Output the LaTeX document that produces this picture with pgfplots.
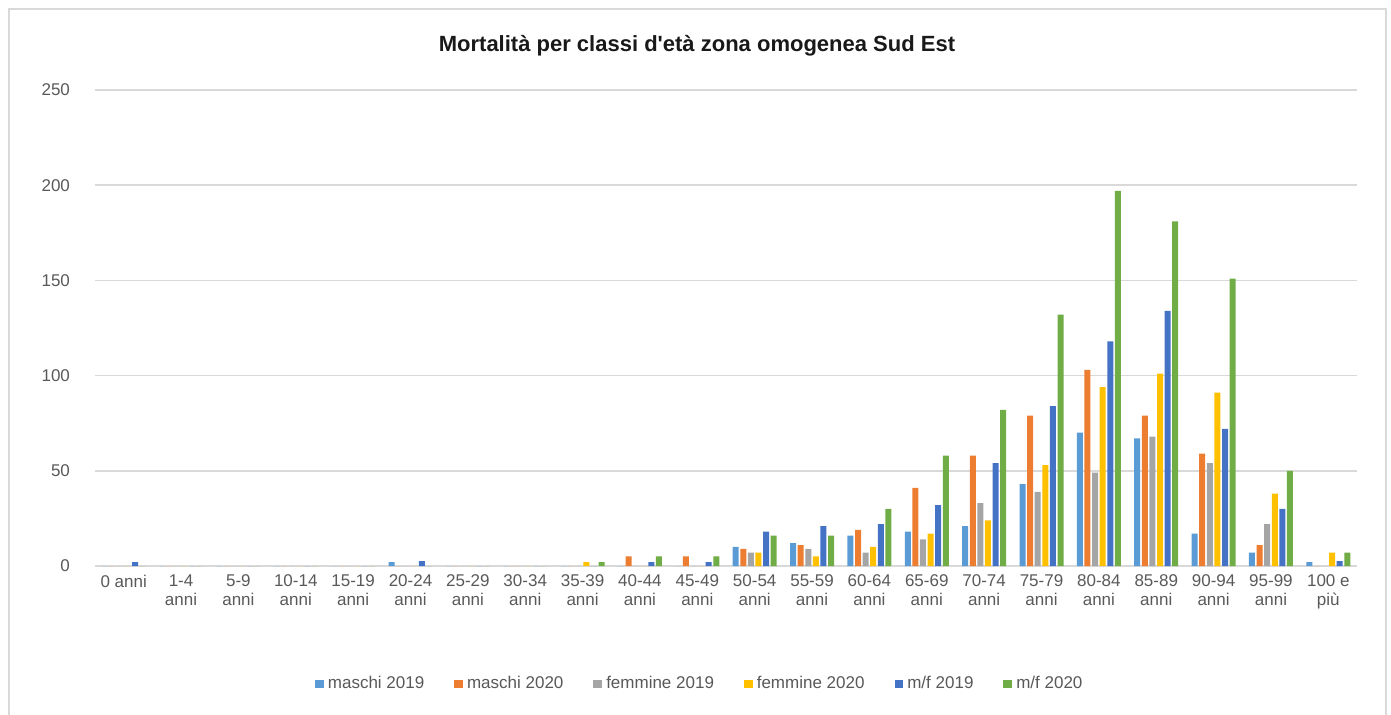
\documentclass[border=0pt]{standalone}
\usepackage{pgfplots}
\pgfplotsset{compat=1.18}
\usepackage{pgfplotstable}
\usepackage{fontspec}
\setmainfont{Liberation Sans}
\definecolor{cA}{HTML}{5B9BD5}
\definecolor{cB}{HTML}{ED7D31}
\definecolor{cC}{HTML}{A5A5A5}
\definecolor{cD}{HTML}{FFC000}
\definecolor{cE}{HTML}{4472C4}
\definecolor{cF}{HTML}{70AD47}
\definecolor{gridc}{HTML}{D9D9D9}
\definecolor{tickc}{HTML}{595959}
\pgfplotstableread{
x  a   b   c   d   e    f
0  0   0   0   0   2    0
1  0   0   0   0   0    0
2  0   0   0   0   0    0
3  0   0   0   0   0    0
4  0   0   0   0   0    0
5  2   0   0   0   2.5  0
6  0   0   0   0   0    0
7  0   0   0   0   0    0
8  0   0   0   2   0    2
9  0   5   0   0   2    5
10 0   5   0   0   2    5
11 10  9   7   7   18   16
12 12  11  9   5   21   16
13 16  19  7   10  22   30
14 18  41  14  17  32   58
15 21  58  33  24  54   82
16 43  79  39  53  84   132
17 70  103 49  94  118  197
18 67  79  68  101 134  181
19 17  59  54  91  72   151
20 7   11  22  38  30   50
21 2   0   0   7   2.5  7
}\data
\begin{document}
\begin{tikzpicture}
\useasboundingbox (0,0) rectangle (695.5pt,357pt);
\draw[color=gridc, line width=1pt] (4.25pt,-1pt) -- (4.25pt,352.5pt) -- (693pt,352.5pt) -- (693pt,-1pt);
\begin{axis}[
  at={(47.5pt,74pt)}, anchor=south west,
  width=631pt, height=238pt, scale only axis,
  ybar=0.8pt, bar width=3pt,
  xmin=-0.5, xmax=21.5, ymin=0, ymax=250,
  xtick={0,...,21},
  xticklabels={0 anni,{1-4\\anni},{5-9\\anni},{10-14\\anni},{15-19\\anni},{20-24\\anni},{25-29\\anni},{30-34\\anni},{35-39\\anni},{40-44\\anni},{45-49\\anni},{50-54\\anni},{55-59\\anni},{60-64\\anni},{65-69\\anni},{70-74\\anni},{75-79\\anni},{80-84\\anni},{85-89\\anni},{90-94\\anni},{95-99\\anni},{100 e\\più}},
  ytick={0,50,...,250},
  ymajorgrids, grid style={gridc, line width=0.75pt},
  axis line style={draw=none},
  major tick length=0pt,
  tick label style={font=\fontsize{8.5}{9.5}\selectfont, text=tickc},
  xticklabel style={align=center, anchor=north, yshift=-1pt},
  yticklabel style={anchor=east, xshift=-9pt},
  /pgf/number format/assume math mode=true,
  title={Mortalità per classi d\textquotesingle età zona omogenea Sud Est},
  title style={at={(0.477,1.068)}, anchor=center, yshift=0pt, font=\bfseries\fontsize{11}{13}\selectfont, text=black!90},
  legend style={at={(0.48,-0.248)}, anchor=center, draw=none, legend columns=6,
    font=\fontsize{8.5}{9.5}\selectfont, text=tickc,
    /tikz/every even column/.append style={column sep=13pt}},
  legend image code/.code={\fill[#1] (0pt,-2.2pt) rectangle (4.4pt,2.2pt);},
  every axis plot/.append style={draw=none},
]
\addplot[fill=cA] table[x=x,y=a]{\data};
\addplot[fill=cB] table[x=x,y=b]{\data};
\addplot[fill=cC] table[x=x,y=c]{\data};
\addplot[fill=cD] table[x=x,y=d]{\data};
\addplot[fill=cE] table[x=x,y=e]{\data};
\addplot[fill=cF] table[x=x,y=f]{\data};
\legend{maschi 2019,maschi 2020,femmine 2019,femmine 2020,m/f 2019,m/f 2020}
\end{axis}
\end{tikzpicture}
\end{document}
